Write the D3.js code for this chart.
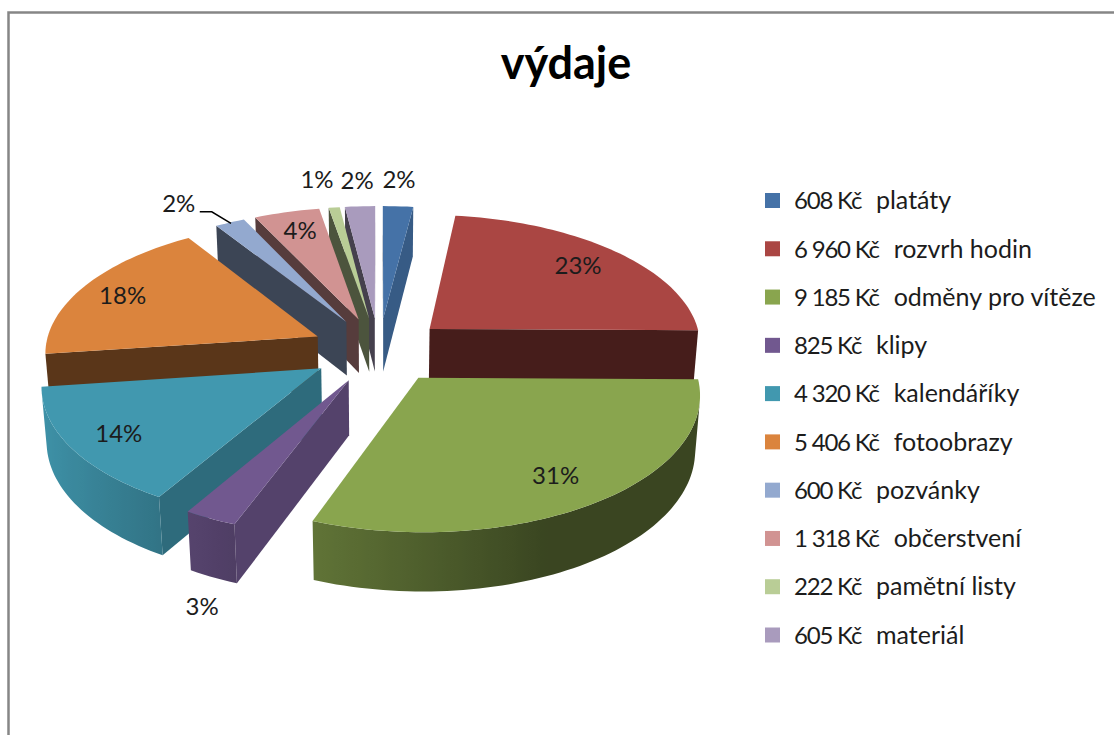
<!DOCTYPE html>
<html>
<head>
<meta charset="utf-8">
<script src="https://cdnjs.cloudflare.com/ajax/libs/d3/7.8.5/d3.min.js"></script>
<style>
  html, body { margin: 0; padding: 0; background: #fff; }
  text { font-family: Lato, "Open Sans", sans-serif; fill: #1c1c1c; }
</style>
</head>
<body>
<div id="chart"></div>
<script>
  // data
  var categories = ["platáty", "rozvrh hodin", "odměny pro vítěze", "klipy", "kalendáříky",
                    "fotoobrazy", "pozvánky", "občerstvení", "pamětní listy", "materiál"];
  var amounts = [608, 6960, 9185, 825, 4320, 5406, 600, 1318, 222, 605];
  var chartTitle = "výdaje";

  // styles, same order as the categories
  var colors = ["#4572a7", "#aa4643", "#89a54e", "#71588f", "#4198af",
                "#db843d", "#93a9cf", "#d19392", "#b9cd96", "#a99bbd"];
  // label distance from slice apex (1 = rim); outside labels sit further out
  var labelRadius = [1.3, 0.8, 0.8, 1.15, 0.8, 0.8, 1.3, 0.8, 1.3, 1.3];
  // small hand nudges for the labels
  var labelNudgeX = [-3, -2, -2, 12, -5, -8, -20, 0, -8, 1];
  var labelNudgeY = [5, 2, 2, 7, 5, 3, 10, 1, 4, 6];

  var width = 1114, height = 735;

  // 3d pie setup
  var cx = 379, cy = 350,      // pie centre on screen
      rx = 273, ry = 131,      // radii before perspective
      depth = 55,              // wall height
      explode = 0.25,          // slice offset, in radii
      persp = 0.11,            // how much the back shrinks
      perspZ = 0.015;          // same for the bottom of the walls

  var svg = d3.select("#chart").append("svg")
      .attr("width", width)
      .attr("height", height);
  var defs = svg.append("defs");

  // frame, only top and left are inside the picture
  svg.append("path")
      .attr("d", d3.line()([[8.5, height], [8.5, 12.5], [width, 12.5]]))
      .attr("fill", "none")
      .attr("stroke", "#868686")
      .attr("stroke-width", 2.5);

  // title
  svg.append("text")
      .attr("x", 566)
      .attr("y", 79)
      .attr("text-anchor", "middle")
      .style("font-size", "45px")
      .style("font-weight", "700")
      .style("fill", "#000")
      .text(chartTitle);

  var pie = d3.pie().sort(null).value(function(d) { return d; });
  var arcs = pie(amounts);
  var total = d3.sum(amounts);
  var color = d3.scaleOrdinal(categories, colors);

  // plane point of a slice -> screen, r from the apex, z 0 top, 1 bottom
  function project(d, angle, r, z) {
    var mid = (d.startAngle + d.endAngle) / 2;
    var X = explode * Math.sin(mid) + r * Math.sin(angle),
        Y = explode * Math.cos(mid) + r * Math.cos(angle);
    var s = 1 / (1 + persp * Y + perspZ * z);
    return [cx + X * rx * s, cy - Y * ry * s + z * depth * s];
  }

  // wall shading
  var rimShade = d3.scaleLinear().domain([-1, -0.4, 0.4, 1]).range([0.97, 0.72, 0.42, 0.42]).clamp(true);
  var sideShade = d3.scaleLinear().domain([97, 120, 170]).range([0.8, 0.71, 0.41]).clamp(true);

  function shaded(c, k) {
    var o = d3.rgb(c);
    return d3.rgb(o.r * k, o.g * k, o.b * k);
  }

  function drawPoly(g, pts, fill) {
    g.append("path")
        .attr("d", d3.line()(pts) + "Z")
        .attr("fill", fill);
  }

  // back slices first
  var order = arcs.slice().sort(function(a, b) {
    return d3.descending(Math.cos((a.startAngle + a.endAngle) / 2), Math.cos((b.startAngle + b.endAngle) / 2));
  });

  order.forEach(function(d) {
    var g = svg.append("g");
    var c = color(categories[d.index]);
    var step = Math.PI / 120;
    var n = Math.max(2, Math.ceil((d.endAngle - d.startAngle) / step));
    var angles = d3.range(n + 1).map(function(i) {
      return d.startAngle + (d.endAngle - d.startAngle) * i / n;
    });

    // radial walls
    [[d.startAngle, -90, 1], [d.endAngle, 90, -1]].forEach(function(w) {
      var pts = [project(d, w[0], 0, 0), project(d, w[0], 1, 0), project(d, w[0], 1, 1), project(d, w[0], 0, 1)];
      if (d3.polygonArea(pts) * w[2] > 0) {
        var nrm = (w[0] * 180 / Math.PI + w[1] + 360) % 360;
        drawPoly(g, pts, shaded(c, sideShade(nrm)));
      }
    });

    // rim, only the part facing us, one path with a gradient
    var seen = [];
    d3.pairs(angles).forEach(function(p) {
      var pts = [project(d, p[0], 1, 0), project(d, p[1], 1, 0), project(d, p[1], 1, 1), project(d, p[0], 1, 1)];
      if (d3.polygonArea(pts) > 0) {
        if (!seen.length) seen.push(p[0]);
        seen.push(p[1]);
      }
    });
    if (seen.length) {
      var rim = seen.map(function(a) { return project(d, a, 1, 0); })
        .concat(seen.slice().reverse().map(function(a) { return project(d, a, 1, 1); }));
      var xs = d3.extent(rim, function(p) { return p[0]; });
      var offset = d3.scaleLinear().domain(xs).range([0, 1]);
      var grad = defs.append("linearGradient")
          .attr("id", "rim" + d.index)
          .attr("gradientUnits", "userSpaceOnUse")
          .attr("x1", xs[0]).attr("x2", xs[1])
          .attr("y1", 0).attr("y2", 0);
      seen.slice().sort(function(a, b) {
        return d3.ascending(project(d, a, 1, 0)[0], project(d, b, 1, 0)[0]);
      }).forEach(function(a) {
        grad.append("stop")
            .attr("offset", offset(project(d, a, 1, 0)[0]))
            .attr("stop-color", shaded(c, rimShade(Math.sin(a))));
      });
      drawPoly(g, rim, "url(#rim" + d.index + ")");
    }

    // top
    var top = [project(d, 0, 0, 0)].concat(angles.map(function(a) { return project(d, a, 1, 0); }));
    drawPoly(g, top, c);
  });

  // percent labels
  var pct = d3.format(".0%");

  function labelPos(d) {
    var mid = (d.startAngle + d.endAngle) / 2;
    var p = project(d, mid, labelRadius[d.index], d.index == 3 ? 1 : 0);
    return [p[0] + labelNudgeX[d.index], p[1] + labelNudgeY[d.index]];
  }

  svg.append("g").selectAll("text")
      .data(arcs)
      .enter()
      .append("text")
      .attr("text-anchor", "middle")
      .attr("dominant-baseline", "middle")
      .style("font-size", "24px")
      .attr("transform", function(d) { return "translate(" + labelPos(d) + ")"; })
      .text(function(d) { return pct(d.value / total); });

  // leader line for pozvanky
  var lead = arcs[6], leadAt = labelPos(lead);
  svg.append("path")
      .attr("d", d3.line()([
        [leadAt[0] + 21, leadAt[1] + 6],
        [leadAt[0] + 33, leadAt[1] + 6],
        project(lead, (lead.startAngle + lead.endAngle) / 2, 0.99, 0)
      ]))
      .attr("fill", "none")
      .attr("stroke", "#000")
      .attr("stroke-width", 1.5);

  // legend
  var legendY = d3.scalePoint().domain(categories).range([200.5, 635]);
  var money = d3.formatLocale({ decimal: ",", thousands: " ", grouping: [3], currency: ["", " Kč"] }).format(",");

  var legend = svg.append("g").selectAll("g")
      .data(categories)
      .enter()
      .append("g")
      .attr("transform", function(d) { return "translate(765," + legendY(d) + ")"; });

  legend.append("rect")
      .attr("y", -7.5)
      .attr("width", 15)
      .attr("height", 15)
      .attr("fill", function(d) { return color(d); });

  var legendText = legend.append("text")
      .attr("x", 29)
      .attr("dy", "0.35em")
      .style("font-size", "25px")
      .style("white-space", "pre");

  legendText.append("tspan")
      .style("font-size", "24px")
      .style("letter-spacing", "-1.2px")
      .text(function(d, i) { return money(amounts[i]) + " Kč"; });

  legendText.append("tspan")
      .attr("dx", 2)
      .text(function(d) { return "  " + d; });
</script>
</body>
</html>
